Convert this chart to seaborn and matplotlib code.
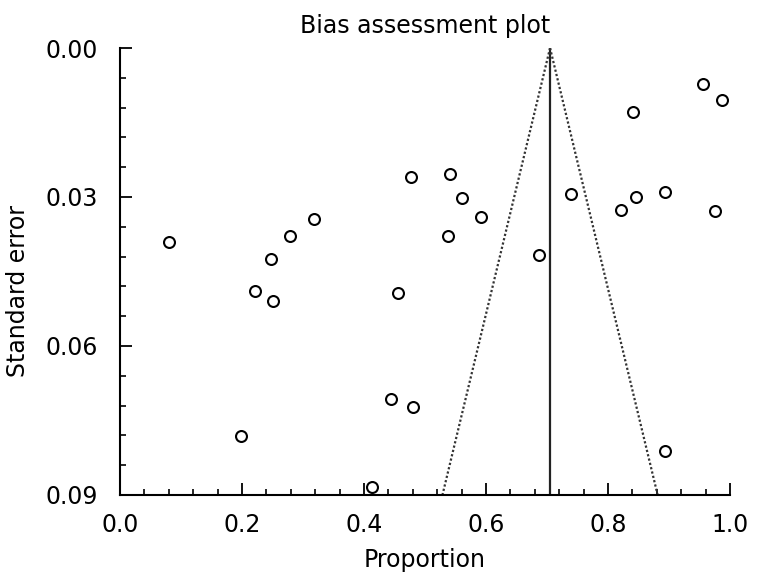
import matplotlib
matplotlib.use("Agg")
import matplotlib.pyplot as plt
from matplotlib.ticker import MultipleLocator, FormatStrFormatter
import seaborn as sns
import pandas as pd
import numpy as np

# study proportions and their standard errors
proportion = [0.080, 0.247, 0.279, 0.318, 0.477, 0.956, 0.987, 0.841, 0.541,
              0.560, 0.592, 0.538, 0.740, 0.846, 0.893, 0.822, 0.976, 0.687,
              0.221, 0.250, 0.455, 0.199, 0.444, 0.480, 0.413, 0.894]
std_error = [0.0390, 0.0425, 0.0378, 0.0344, 0.0260, 0.0072, 0.0105, 0.0128, 0.0254,
             0.0302, 0.0341, 0.0378, 0.0293, 0.0301, 0.0290, 0.0327, 0.0329, 0.0417,
             0.0489, 0.0510, 0.0493, 0.0782, 0.0706, 0.0723, 0.0883, 0.0812]

pooled = 0.705
se_range = [0.0, 0.09]

df = pd.DataFrame({"Proportion": proportion, "Standard error": std_error})

sns.set_style("ticks")
plt.rcParams['font.family'] = ['DejaVu Sans']
plt.rcParams['text.color'] = 'black'
plt.rcParams['axes.labelcolor'] = 'black'
plt.rcParams['xtick.color'] = 'black'
plt.rcParams['ytick.color'] = 'black'

fig = plt.figure(figsize=(7.58, 5.84), dpi=100)
ax = fig.add_axes([120 / 758, 89 / 584, 610 / 758, 447 / 584])

# funnel: pooled estimate and 95% limits
se = np.array(se_range)
ax.plot([pooled, pooled], se, color='#222222', lw=1.6, zorder=1)
ax.plot(pooled - 1.96 * se, se, color='#333333', lw=1.6, ls=(0, (1, 1)), zorder=1)
ax.plot(pooled + 1.96 * se, se, color='#333333', lw=1.6, ls=(0, (1, 1)), zorder=1)

sns.scatterplot(data=df, x="Proportion", y="Standard error", ax=ax,
                marker='o', s=62, facecolor='white', edgecolor='black',
                linewidth=1.5, zorder=3)

ax.set_xlim(0, 1)
ax.set_ylim(0.09, 0.0)
ax.xaxis.set_major_locator(MultipleLocator(0.2))
ax.xaxis.set_minor_locator(MultipleLocator(0.04))
ax.yaxis.set_major_locator(MultipleLocator(0.03))
ax.yaxis.set_minor_locator(MultipleLocator(0.006))
ax.xaxis.set_major_formatter(FormatStrFormatter('%.1f'))
ax.yaxis.set_major_formatter(FormatStrFormatter('%.2f'))

ax.tick_params(which='major', direction='in', length=8.5, width=1.3,
               labelsize=17, color='black', labelcolor='black')
ax.tick_params(which='minor', direction='in', length=4.5, width=1.2, color='black')
ax.tick_params(axis='y', which='major', pad=16)
ax.tick_params(axis='x', which='major', pad=13)

sns.despine(ax=ax)
for side in ['left', 'bottom']:
    ax.spines[side].set_linewidth(1.5)
    ax.spines[side].set_color('black')

ax.set_title('Bias assessment plot', fontsize=17, pad=11, color='black')
ax.set_xlabel('Proportion', fontsize=17, labelpad=8)
ax.set_ylabel('Standard error', fontsize=17)
ax.yaxis.set_label_coords(-0.147, 0.456)

fig.savefig('out.png', dpi=100)
